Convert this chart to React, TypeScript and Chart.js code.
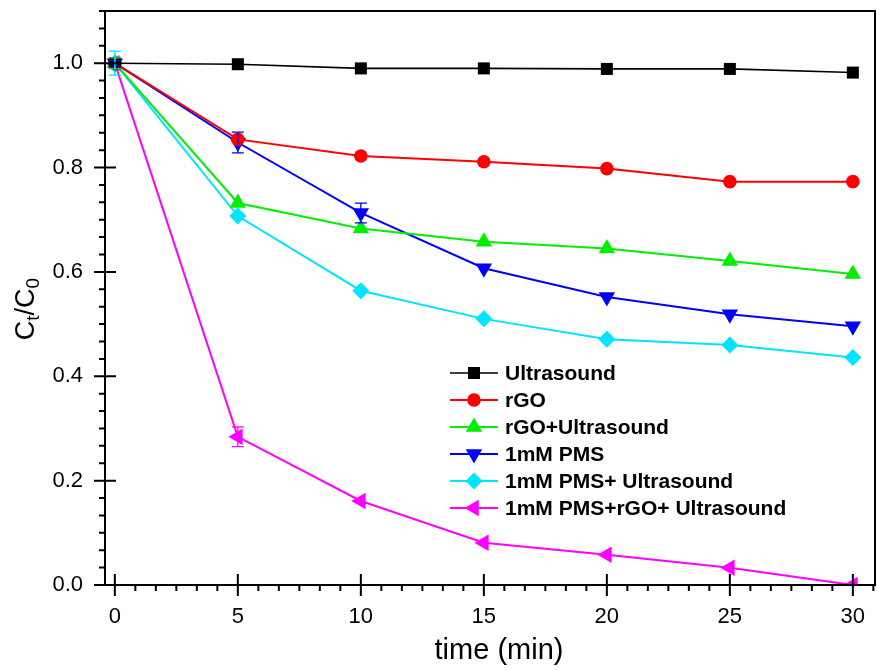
import React, { useEffect, useRef } from "react";
import { Chart, registerables } from "chart.js";

Chart.register(...registerables);

const timeMin = [0, 5, 10, 15, 20, 25, 30];
const ultrasound = [1.0, 0.998, 0.990, 0.990, 0.989, 0.989, 0.982];
const rGO = [1.0, 0.854, 0.822, 0.811, 0.798, 0.773, 0.773];
const rGOUltrasound = [1.0, 0.732, 0.683, 0.658, 0.645, 0.621, 0.596];
const pms = [1.0, 0.848, 0.713, 0.607, 0.552, 0.519, 0.496];
const pmsUltrasound = [1.0, 0.707, 0.564, 0.510, 0.471, 0.460, 0.436];
const pmsRgoUltrasound = [1.0, 0.284, 0.161, 0.081, 0.058, 0.033, 0.0];

const ultrasoundErr = [0, 0, 0, 0, 0, 0, 0];
const rGOErr = [0, 0.004, 0, 0, 0, 0, 0];
const rGOUltrasoundErr = [0.01, 0, 0, 0, 0, 0, 0];
const pmsErr = [0.005, 0.02, 0.019, 0, 0, 0, 0];
const pmsUltrasoundErr = [0.023, 0, 0, 0, 0, 0, 0];
const pmsRgoUltrasoundErr = [0, 0.019, 0, 0, 0, 0, 0];

const seriesNames = [
  "Ultrasound",
  "rGO",
  "rGO+Ultrasound",
  "1mM PMS",
  "1mM PMS+ Ultrasound",
  "1mM PMS+rGO+ Ultrasound",
];

const xTicks = [0, 5, 10, 15, 20, 25, 30];
const yTicks = [0.0, 0.2, 0.4, 0.6, 0.8, 1.0];
const xMin = -0.4;
const xMax = 30.9;
const yMin = 0;
const yMax = 1.1;

const FONT = "'Liberation Sans', Arial, sans-serif";
const PLOT_RIGHT_GAP = 2;

const seriesStyle = [
  { color: "#000000", pointStyle: "rect", radius: 8.5, rotation: 0, width: 1.6 },
  { color: "#ff0000", pointStyle: "circle", radius: 6.8, rotation: 0, width: 2 },
  { color: "#00ee00", pointStyle: "triangle", radius: 9.5, rotation: 0, width: 2 },
  { color: "#0000ff", pointStyle: "triangle", radius: 9.5, rotation: 180, width: 2 },
  { color: "#00e5ff", pointStyle: "rectRot", radius: 8.5, rotation: 0, width: 2 },
  { color: "#ff00ff", pointStyle: "triangle", radius: 9.5, rotation: -90, width: 2 },
];

const allSeries = [ultrasound, rGO, rGOUltrasound, pms, pmsUltrasound, pmsRgoUltrasound];
const allErrors = [ultrasoundErr, rGOErr, rGOUltrasoundErr, pmsErr, pmsUltrasoundErr, pmsRgoUltrasoundErr];

function drawMarker(ctx: any, style: string, r: number, rotation: number, x: number, y: number, color: string) {
  ctx.save();
  ctx.fillStyle = color;
  ctx.beginPath();
  const rad = (rotation * Math.PI) / 180;
  if (style === "rect") {
    const s = Math.SQRT1_2 * r;
    ctx.rect(x - s, y - s, 2 * s, 2 * s);
  } else if (style === "circle") {
    ctx.arc(x, y, r, 0, Math.PI * 2);
  } else if (style === "rectRot") {
    ctx.moveTo(x, y - r);
    ctx.lineTo(x + r, y);
    ctx.lineTo(x, y + r);
    ctx.lineTo(x - r, y);
  } else {
    let a = rad;
    ctx.moveTo(x + Math.sin(a) * r, y - Math.cos(a) * r);
    a += (2 * Math.PI) / 3;
    ctx.lineTo(x + Math.sin(a) * r, y - Math.cos(a) * r);
    a += (2 * Math.PI) / 3;
    ctx.lineTo(x + Math.sin(a) * r, y - Math.cos(a) * r);
  }
  ctx.closePath();
  ctx.fill();
  ctx.restore();
}

const decorPlugin = {
  id: "decor",
  afterLayout(chart: any) {
    const xs = chart.scales.x;
    const right = chart.width - PLOT_RIGHT_GAP;
    if (Math.abs(xs.right - right) > 0.5) {
      xs.right = right;
      xs.width = right - xs.left;
      xs.configure();
      chart.chartArea.right = right;
      chart.chartArea.width = right - chart.chartArea.left;
    }
  },
  afterDatasetsDraw(chart: any) {
    const ctx = chart.ctx;
    const ys = chart.scales.y;
    allErrors.forEach((errs, i) => {
      const meta = chart.getDatasetMeta(i);
      ctx.save();
      ctx.strokeStyle = seriesStyle[i].color;
      ctx.lineWidth = 1.3;
      errs.forEach((e, j) => {
        if (!e) return;
        const pt = meta.data[j];
        const v = allSeries[i][j];
        const yt = ys.getPixelForValue(v + e);
        const yb = ys.getPixelForValue(v - e);
        ctx.beginPath();
        ctx.moveTo(pt.x, yt);
        ctx.lineTo(pt.x, yb);
        ctx.moveTo(pt.x - 6, yt);
        ctx.lineTo(pt.x + 6, yt);
        ctx.moveTo(pt.x - 6, yb);
        ctx.lineTo(pt.x + 6, yb);
        ctx.stroke();
      });
      ctx.restore();
    });
  },
  afterDraw(chart: any) {
    const ctx = chart.ctx;
    const a = chart.chartArea;
    const xs = chart.scales.x;
    const ys = chart.scales.y;
    ctx.save();
    ctx.strokeStyle = "#000";
    ctx.lineWidth = 2;
    ctx.strokeRect(a.left, a.top, a.right - a.left, a.bottom - a.top);
    ctx.beginPath();
    xTicks.forEach((v) => {
      const px = xs.getPixelForValue(v);
      ctx.moveTo(px, a.bottom - 11);
      ctx.lineTo(px, a.bottom + 11);
    });
    for (let k = 0; k * (5 / 6) <= xMax; k++) {
      if (k % 6 === 0) continue;
      const px = xs.getPixelForValue(k * (5 / 6));
      ctx.moveTo(px, a.bottom);
      ctx.lineTo(px, a.bottom + 6);
    }
    yTicks.forEach((v) => {
      const py = ys.getPixelForValue(v);
      ctx.moveTo(a.left - 11, py);
      ctx.lineTo(a.left + 11, py);
    });
    for (let k = 0; k * (0.2 / 6) <= yMax + 1e-9; k++) {
      if (k % 6 === 0) continue;
      const py = ys.getPixelForValue(k * (0.2 / 6));
      ctx.moveTo(a.left - 6, py);
      ctx.lineTo(a.left, py);
    }
    ctx.stroke();

    ctx.fillStyle = "#000";
    ctx.font = `29px ${FONT}`;
    ctx.textAlign = "center";
    ctx.textBaseline = "alphabetic";
    ctx.fillText("time (min)", 499, 659);

    ctx.save();
    ctx.translate(34, 309);
    ctx.rotate(-Math.PI / 2);
    const big = `27px ${FONT}`;
    const small = `19px ${FONT}`;
    const parts = [
      { t: "C", f: big, dy: 0 },
      { t: "t", f: small, dy: 5 },
      { t: "/C", f: big, dy: 0 },
      { t: "0", f: small, dy: 5 },
    ];
    let total = 0;
    parts.forEach((p) => {
      ctx.font = p.f;
      total += ctx.measureText(p.t).width;
    });
    let x = -total / 2;
    ctx.textAlign = "left";
    parts.forEach((p) => {
      ctx.font = p.f;
      ctx.fillText(p.t, x, p.dy);
      x += ctx.measureText(p.t).width;
    });
    ctx.restore();

    const rowY = [373, 400, 427, 454, 481, 508];
    ctx.font = `bold 21px ${FONT}`;
    ctx.textBaseline = "middle";
    ctx.textAlign = "left";
    seriesNames.forEach((name, i) => {
      const st = seriesStyle[i];
      const y = rowY[i];
      ctx.strokeStyle = st.color;
      ctx.lineWidth = st.width;
      ctx.beginPath();
      ctx.moveTo(450, y);
      ctx.lineTo(498, y);
      ctx.stroke();
      drawMarker(ctx, st.pointStyle, st.radius, st.rotation, 474, y, st.color);
      ctx.fillStyle = "#000";
      ctx.fillText(name, 505, y + 1);
    });
    ctx.restore();
  },
};

export default function App() {
  const ref = useRef<HTMLCanvasElement | null>(null);
  useEffect(() => {
    document.body.style.margin = "0";
    if (!ref.current) return;
    const datasets = allSeries.map((vals, i) => ({
      label: seriesNames[i],
      data: vals.map((v, j) => ({ x: timeMin[j], y: v })),
      borderColor: seriesStyle[i].color,
      backgroundColor: seriesStyle[i].color,
      pointBackgroundColor: seriesStyle[i].color,
      pointBorderColor: seriesStyle[i].color,
      pointBorderWidth: 0,
      borderWidth: seriesStyle[i].width,
      pointStyle: seriesStyle[i].pointStyle,
      pointRadius: seriesStyle[i].radius,
      pointRotation: seriesStyle[i].rotation,
      pointHoverRadius: seriesStyle[i].radius,
      tension: 0,
      fill: false,
    }));
    const chart = new Chart(ref.current, {
      type: "line",
      data: { datasets },
      options: {
        animation: false,
        responsive: true,
        maintainAspectRatio: false,
        layout: { padding: { left: 0, top: 11, right: PLOT_RIGHT_GAP, bottom: 0 } },
        plugins: { legend: { display: false }, tooltip: { enabled: false } },
        scales: {
          x: {
            type: "linear",
            min: xMin,
            max: xMax,
            grid: { display: false },
            border: { display: false },
            afterBuildTicks: (s: any) => {
              s.ticks = xTicks.map((v) => ({ value: v }));
            },
            afterFit: (s: any) => {
              s.height = 85;
              s.paddingLeft = 0;
              s.paddingRight = 0;
            },
            ticks: {
              padding: 11,
              color: "#000",
              font: { family: FONT, size: 22 },
              maxRotation: 0,
              callback: (v: any) => String(v),
            },
          },
          y: {
            type: "linear",
            min: yMin,
            max: yMax,
            grid: { display: false },
            border: { display: false },
            afterBuildTicks: (s: any) => {
              s.ticks = yTicks.map((v) => ({ value: v }));
            },
            afterFit: (s: any) => {
              s.width = 105;
              s.paddingTop = 0;
              s.paddingBottom = 0;
            },
            ticks: {
              padding: 14,
              color: "#000",
              font: { family: FONT, size: 22 },
              callback: (v: any) => Number(v).toFixed(1),
            },
          },
        },
      },
      plugins: [decorPlugin],
    });
    return () => chart.destroy();
  }, []);
  return (
    <div style={{ position: "fixed", left: 0, top: 0, width: 877, height: 670, background: "#fff" }}>
      <canvas ref={ref} />
    </div>
  );
}
